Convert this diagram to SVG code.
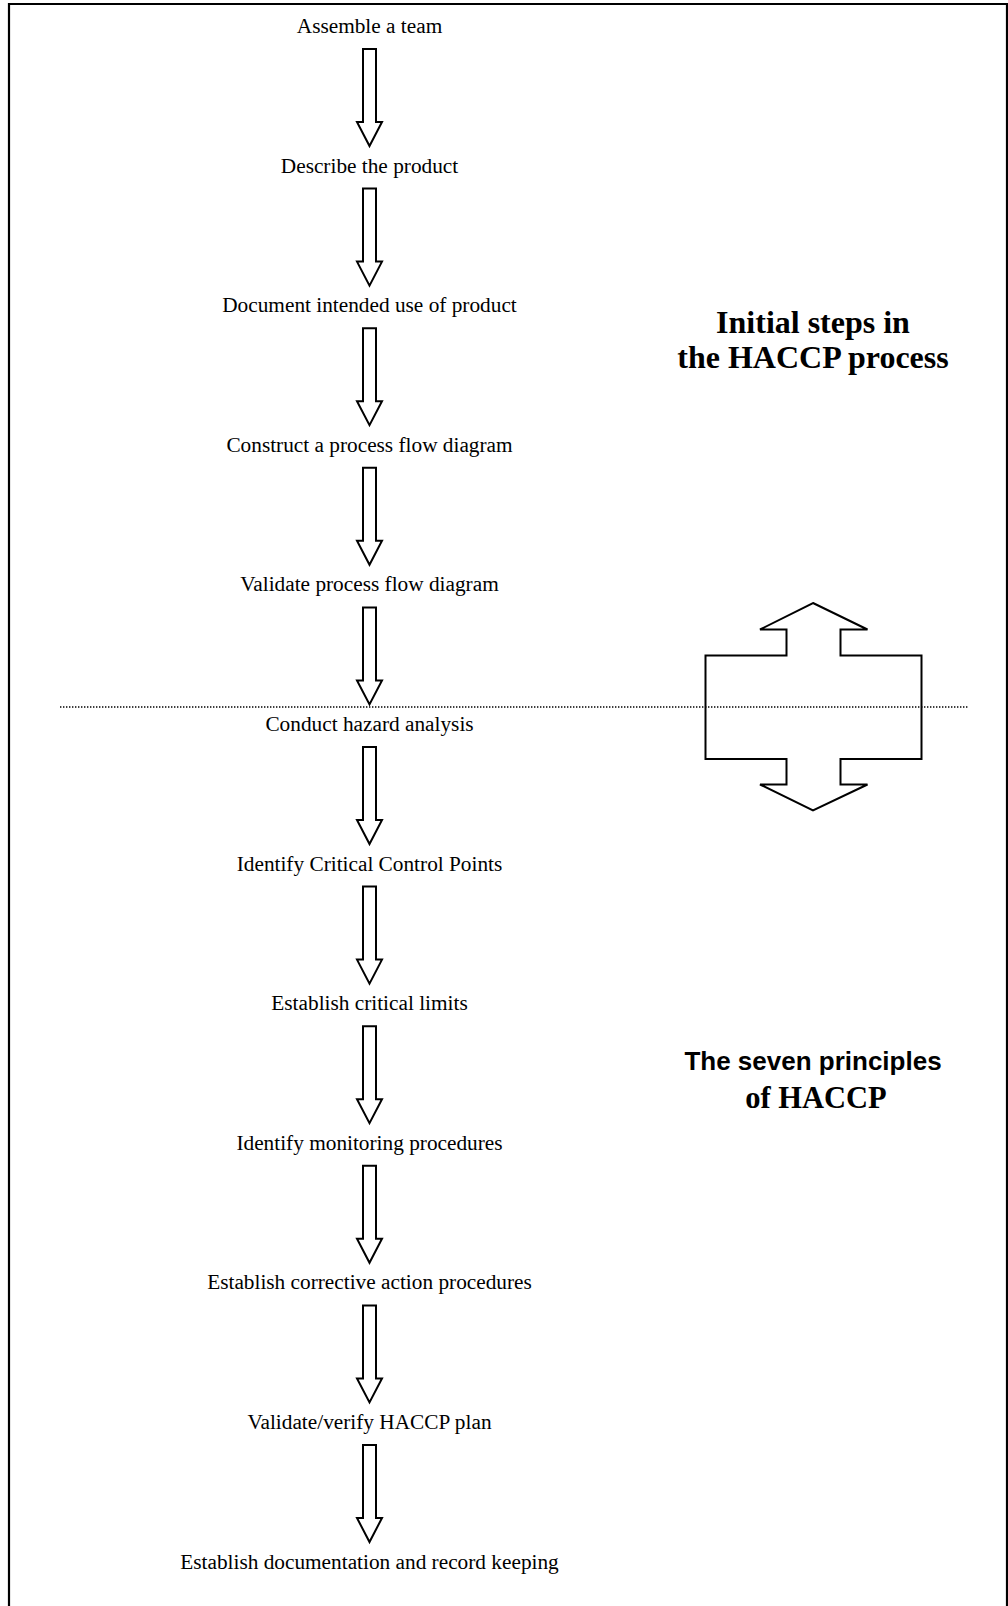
<svg xmlns="http://www.w3.org/2000/svg" width="1008" height="1606" viewBox="0 0 1008 1606">
<defs>
<style>
.step{font-family:"Liberation Serif","Times New Roman",serif;font-size:21.3px;text-anchor:middle;fill:#000}
.title{font-family:"Liberation Serif","Times New Roman",serif;font-size:32px;font-weight:bold;text-anchor:middle;fill:#000}
.titlesans{font-family:"Liberation Sans",Arial,sans-serif;font-size:26px;font-weight:bold;text-anchor:middle;fill:#000}
.arr{fill:#fff;stroke:#000;stroke-width:2;stroke-linejoin:miter}
</style>
<polygon id="downArrow" class="arr" points="363,0 376,0 376,73 382,73 369.5,97 357,73 363,73"/>
</defs>
<rect width="1008" height="1606" fill="#fff"/>
<path d="M9,1606 V4 H1007 V1606" fill="none" stroke="#000" stroke-width="2.2"/>

<g id="connectors">
<use href="#downArrow" y="49"/>
<use href="#downArrow" y="188.6"/>
<use href="#downArrow" y="328.2"/>
<use href="#downArrow" y="467.8"/>
<use href="#downArrow" y="607.4"/>
<use href="#downArrow" y="747"/>
<use href="#downArrow" y="886.6"/>
<use href="#downArrow" y="1026.2"/>
<use href="#downArrow" y="1165.8"/>
<use href="#downArrow" y="1305.4"/>
<use href="#downArrow" y="1445"/>
</g>

<g id="n1"><text class="step" x="369.5" y="33">Assemble a team</text></g>
<g id="n2"><text class="step" x="369.5" y="172.6">Describe the product</text></g>
<g id="n3"><text class="step" x="369.5" y="312.2">Document intended use of product</text></g>
<g id="n4"><text class="step" x="369.5" y="451.8">Construct a process flow diagram</text></g>
<g id="n5"><text class="step" x="369.5" y="591.4">Validate process flow diagram</text></g>
<g id="n6"><text class="step" x="369.5" y="731">Conduct hazard analysis</text></g>
<g id="n7"><text class="step" x="369.5" y="870.6">Identify Critical Control Points</text></g>
<g id="n8"><text class="step" x="369.5" y="1010.2">Establish critical limits</text></g>
<g id="n9"><text class="step" x="369.5" y="1149.8">Identify monitoring procedures</text></g>
<g id="n10"><text class="step" x="369.5" y="1289.4">Establish corrective action procedures</text></g>
<g id="n11"><text class="step" x="369.5" y="1429">Validate/verify HACCP plan</text></g>
<g id="n12"><text class="step" x="369.5" y="1568.6">Establish documentation and record keeping</text></g>

<g id="title-initial">
<text class="title" x="813" y="333">Initial steps in</text>
<text class="title" x="813" y="368">the HACCP process</text>
</g>
<g id="title-principles">
<text class="titlesans" x="813" y="1070">The seven principles</text>
<text class="title" x="816" y="1108" style="font-size:30.5px">of HACCP</text>
</g>

<g id="double-arrow">
<polygon class="arr" style="fill:none" points="813,603 867.5,629.5 840.5,629.5 840.5,655.5 921.5,655.5 921.5,759 840.5,759 840.5,784.5 867.5,784.5 813,810.5 760,784.5 786.5,784.5 786.5,759 705.5,759 705.5,655.5 786.5,655.5 786.5,629.5 760,629.5"/>
</g>
<g id="divider">
<line x1="60" y1="707" x2="968" y2="707" stroke="#000" stroke-width="1.4" stroke-dasharray="1.4 1.6"/>
</g>
</svg>
